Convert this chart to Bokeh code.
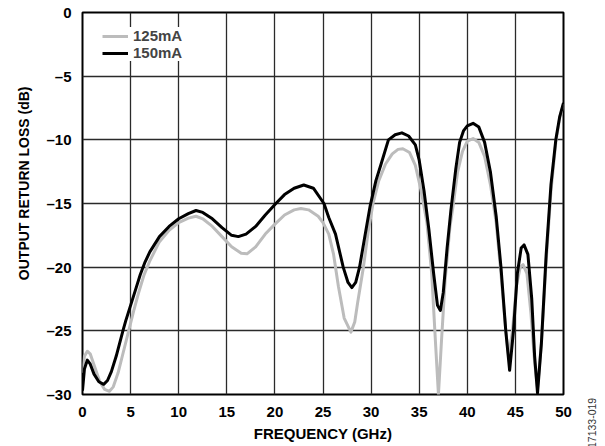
from bokeh.plotting import figure
from bokeh.layouts import row
from bokeh.models import Range1d, FixedTicker, Legend, LegendItem, Title, Div
from bokeh.embed import file_html
from bokeh.resources import INLINE

# ---- data ----
freq_150 = [0.0, 0.2, 0.5, 0.8, 1.2, 1.7, 2.2, 2.6, 3.0, 3.5, 4.2, 4.5, 5.0, 5.5, 6.0, 6.5,
            7.0, 8.0, 9.0, 10.0, 11.0, 11.8, 12.5, 13.5, 14.5, 15.5, 16.2, 17.0, 18.0,
            19.0, 20.1, 21.0, 22.0, 23.0, 24.0, 25.1, 25.6, 26.3, 27.1, 27.6, 28.0, 28.4,
            28.8, 29.3, 29.9, 30.5, 31.0, 31.8, 32.5, 33.2, 33.9, 34.6, 35.0, 35.5, 36.0,
            36.5, 36.9, 37.2, 37.5, 37.9, 38.3, 38.8, 39.2, 39.6, 40.0, 40.6, 41.2, 41.8,
            42.4, 43.0, 43.5, 44.0, 44.4, 44.8, 45.2, 45.6, 45.9, 46.3, 46.7, 47.0, 47.3,
            47.7, 48.2, 48.7, 49.2, 49.6, 50.0]
rl_150 = [-29.7, -28.0, -27.3, -27.6, -28.4, -29.0, -29.2, -28.9, -28.2, -27.0, -25.0, -24.2,
          -23.0, -21.8, -20.6, -19.6, -18.8, -17.6, -16.8, -16.2, -15.8, -15.55, -15.7, -16.2,
          -16.9, -17.5, -17.6, -17.4, -16.8, -15.9, -15.0, -14.3, -13.8, -13.55, -13.8,
          -15.0, -16.1, -17.4, -20.0, -21.2, -21.6, -21.2, -20.0, -17.8, -15.2, -13.2,
          -12.0, -10.0, -9.6, -9.45, -9.7, -10.4, -11.6, -14.0, -17.0, -20.5, -23.0, -23.4,
          -22.0, -18.5, -15.5, -12.3, -10.2, -9.3, -8.9, -8.7, -9.0, -10.2, -12.5, -16.0,
          -20.0, -25.0, -28.1, -25.0, -20.5, -18.5, -18.25, -19.0, -22.5, -27.0, -29.9,
          -26.0, -19.0, -13.5, -10.0, -8.2, -7.1]

freq_125 = [0.0, 0.2, 0.5, 0.8, 1.3, 1.8, 2.3, 2.8, 3.2, 3.7, 4.2, 4.8, 5.3, 5.8, 6.4, 7.0,
            8.0, 9.0, 10.0, 11.0, 11.8, 12.5, 13.5, 14.5, 15.5, 16.5, 17.1, 18.0, 19.0,
            19.9, 21.0, 22.0, 22.7, 23.5, 24.5, 25.0, 25.6, 26.1, 26.6, 27.2, 27.9, 28.3,
            28.6, 29.2, 29.7, 30.2, 30.8, 31.5, 32.2, 32.8, 33.3, 34.0, 34.6, 35.2, 35.8,
            36.3, 36.7, 37.0, 37.3, 37.7, 38.2, 38.5, 39.0, 39.5, 40.0, 40.6, 41.2, 41.8,
            42.4, 43.0, 43.5, 44.0, 44.3, 44.7, 45.1, 45.5, 45.8, 46.2, 46.6, 47.0, 47.3,
            47.7, 48.2, 48.7, 49.2, 49.6, 50.0]
rl_125 = [-28.3, -27.0, -26.6, -26.8, -27.9, -29.0, -29.6, -29.75, -29.4, -28.3, -26.8, -25.0,
          -23.5, -22.1, -20.6, -19.5, -18.0, -17.1, -16.5, -16.15, -16.0, -16.2, -16.8,
          -17.6, -18.4, -18.9, -18.95, -18.4, -17.4, -16.7, -15.9, -15.5, -15.4, -15.5,
          -16.0, -16.5, -17.4, -19.0, -21.5, -24.0, -25.1, -24.3, -22.8, -20.0, -17.2,
          -15.0, -13.2, -11.9, -11.1, -10.75, -10.7, -11.0, -12.0, -14.0, -16.5, -20.5,
          -26.0, -30.0, -26.0, -21.0, -16.8, -15.3, -12.5, -10.9, -10.1, -9.9, -10.2,
          -11.3, -13.5, -16.5, -20.5, -25.0, -27.0, -25.0, -21.5, -20.0, -19.8, -20.5,
          -23.5, -27.5, -29.5, -26.0, -19.5, -14.0, -10.2, -8.3, -7.2]

x_ticks = [0, 5, 10, 15, 20, 25, 30, 35, 40, 45, 50]
y_ticks = [-30, -25, -20, -15, -10, -5, 0]
y_tick_labels = ["\u201330", "\u201325", "\u201320", "\u201315", "\u201310", "\u20135", "0"]
series_names = ["125mA", "150mA"]
figure_id = "17133-019"

FONT = "Liberation Sans"
FS = "15px"

p = figure(width=575, height=444, output_backend="svg", toolbar_location=None,
           x_range=Range1d(0, 50), y_range=Range1d(-30, 0),
           min_border_left=82, min_border_right=12, min_border_top=12, min_border_bottom=46)

p.outline_line_color = "black"
p.outline_line_width = 2
p.background_fill_color = "white"

for ax in (p.xaxis[0], p.yaxis[0]):
    ax.axis_line_color = None
    ax.major_tick_line_color = None
    ax.minor_tick_line_color = None
    ax.major_label_text_font = FONT
    ax.major_label_text_font_style = "bold"
    ax.major_label_text_font_size = FS
    ax.major_label_text_color = "black"
    ax.axis_label_text_font = FONT
    ax.axis_label_text_font_style = "bold"
    ax.axis_label_text_font_size = FS
    ax.axis_label_text_color = "black"

p.xaxis.ticker = FixedTicker(ticks=x_ticks)
p.yaxis.ticker = FixedTicker(ticks=y_ticks)
p.yaxis.major_label_overrides = {t: l for t, l in zip(y_ticks, y_tick_labels)}
p.xaxis.axis_label = "FREQUENCY (GHz)"
p.xaxis.major_label_standoff = 6
p.yaxis.major_label_standoff = 5
p.xaxis.axis_label_standoff = 5

# y-axis title as a side title, anchored near the top as in the reference
p.add_layout(Title(text="OUTPUT RETURN LOSS (dB)", align="right", offset=74,
                   text_font=FONT, text_font_style="bold", text_font_size="14px",
                   text_color="black", standoff=24), "left")

for g in (p.xgrid[0], p.ygrid[0]):
    g.grid_line_color = "#2a2a2a"
    g.grid_line_width = 1.3
p.xgrid.ticker = FixedTicker(ticks=x_ticks)
p.ygrid.ticker = FixedTicker(ticks=y_ticks)

r125 = p.line(freq_125, rl_125, line_color="#bcbcbc", line_width=3, line_join="round")
r150 = p.line(freq_150, rl_150, line_color="black", line_width=3, line_join="round")

legend = Legend(items=[LegendItem(label=series_names[0], renderers=[r125]),
                       LegendItem(label=series_names[1], renderers=[r150])],
                location=(20, 333), padding=0, spacing=0, margin=0,
                glyph_width=26, glyph_height=16, label_height=16, label_standoff=5,
                label_text_font=FONT, label_text_font_style="bold",
                label_text_font_size=FS, border_line_alpha=0,
                background_fill_color="white", background_fill_alpha=1)
p.add_layout(legend)

# narrow HTML strip carrying the rotated figure number at the lower right
id_html = (
    '<div style="position:relative;width:30px;height:444px;">'
    '<div style="position:absolute;left:-13px;top:412px;width:50px;height:12px;'
    'line-height:12px;text-align:center;white-space:nowrap;transform:rotate(-90deg);'
    "transform-origin:center center;font-family:'Liberation Sans';font-size:10.5px;"
    'color:#333333;">' + figure_id + '</div></div>'
)
side = Div(text=id_html, width=30, height=444)

layout = row(p, side)
open("out.html", "w").write(file_html(layout, INLINE))
